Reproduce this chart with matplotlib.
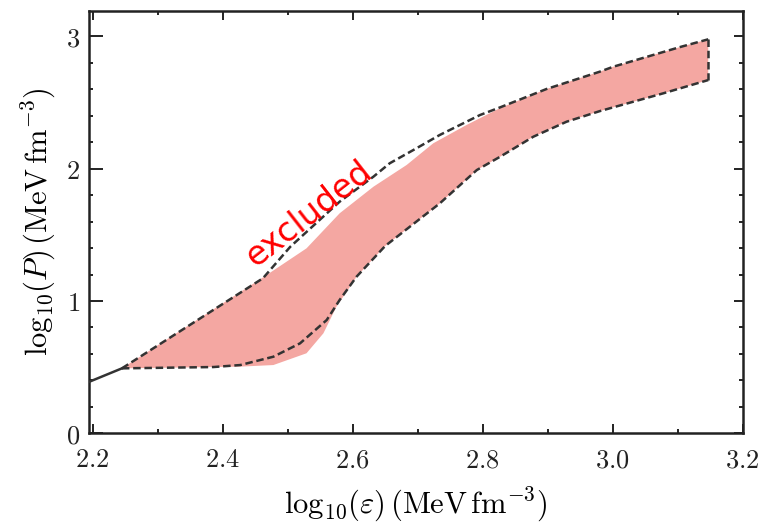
import matplotlib
matplotlib.use("Agg")
import matplotlib.pyplot as plt
from matplotlib.ticker import MultipleLocator, FuncFormatter

plt.rcParams["mathtext.fontset"] = "cm"

# Upper boundary of the allowed band (dashed, "excluded" above it)
upper_x = [2.245, 2.462, 2.504, 2.580, 2.632, 2.657, 2.698, 2.734, 2.796,
           2.827, 2.898, 2.980, 3.001, 3.104, 3.147]
upper_y = [0.491, 1.172, 1.410, 1.751, 1.940, 2.041, 2.154, 2.255, 2.406,
           2.464, 2.602, 2.733, 2.771, 2.920, 2.978]

# Lower boundary of the allowed band (dashed)
lower_x = [2.245, 2.386, 2.427, 2.478, 2.519, 2.560, 2.580, 2.606, 2.650,
           2.734, 2.791, 2.827, 2.878, 2.929, 2.980, 3.078, 3.147]
lower_y = [0.491, 0.501, 0.516, 0.579, 0.680, 0.856, 1.008, 1.184, 1.416,
           1.738, 1.990, 2.091, 2.242, 2.355, 2.435, 2.570, 2.670]

# Shaded region edges
band_top_x = [2.245, 2.462, 2.529, 2.580, 2.632, 2.683, 2.724, 2.775, 2.827,
              2.898, 2.980, 3.001, 3.104, 3.147]
band_top_y = [0.491, 1.178, 1.398, 1.663, 1.864, 2.028, 2.192, 2.330, 2.459,
              2.602, 2.733, 2.771, 2.920, 2.978]
band_bot_x = [2.245, 2.427, 2.478, 2.529, 2.555, 2.575, 2.596, 2.606, 2.650,
              2.734, 2.791, 2.827, 2.878, 2.929, 2.980, 3.078, 3.147]
band_bot_y = [0.491, 0.504, 0.516, 0.605, 0.756, 0.957, 1.108, 1.184, 1.416,
              1.738, 1.990, 2.091, 2.242, 2.355, 2.435, 2.570, 2.670]

# Crust (single low-density EOS)
crust_x = [2.19, 2.245]
crust_y = [0.38, 0.491]

x_ticks = [2.2, 2.4, 2.6, 2.8, 3.0, 3.2]
y_ticks = [0, 1, 2, 3]

fig = plt.figure(figsize=(7.67, 5.26), dpi=100)
ax = fig.add_axes([0.1156, 0.1762, 0.8527, 0.8029])

band_color = "#F4A7A2"
line_color = "#333333"

poly_x = band_top_x + band_bot_x[::-1]
poly_y = band_top_y + band_bot_y[::-1]
ax.fill(poly_x, poly_y, color=band_color, lw=0, zorder=1)

dash_kw = dict(color=line_color, lw=1.8, dashes=(3.0, 1.5), zorder=3)
ax.plot(upper_x, upper_y, **dash_kw)
ax.plot(lower_x, lower_y, **dash_kw)
ax.plot([upper_x[-1], lower_x[-1]], [upper_y[-1], lower_y[-1]], **dash_kw)
ax.plot(crust_x, crust_y, color=line_color, lw=1.8, zorder=3)

ax.text(2.532, 1.655, "excluded", color="red", fontsize=24,
        rotation=38, rotation_mode="anchor", ha="center", va="center",
        family="DejaVu Sans", zorder=4)

ax.set_xlim(2.19385, 3.2)
ax.set_ylim(0, 3.192)

ax.set_xticks(x_ticks)
ax.set_yticks(y_ticks)
ax.xaxis.set_minor_locator(MultipleLocator(0.1))
ax.yaxis.set_minor_locator(MultipleLocator(0.2))
ax.xaxis.set_major_formatter(FuncFormatter(lambda v, p: f"${v:.1f}$"))
ax.yaxis.set_major_formatter(FuncFormatter(lambda v, p: f"${v:.0f}$"))

ax.tick_params(which="both", direction="in", top=True, right=True,
               width=1.4, colors="#222222", labelsize=19)
ax.tick_params(which="major", length=6.5)
ax.tick_params(which="minor", length=3)
ax.tick_params(axis="x", which="major", pad=10)
ax.tick_params(axis="y", which="major", pad=6)
for t in ax.yaxis.get_major_ticks():
    t.tick1line.set_markersize(10)

for s in ax.spines.values():
    s.set_linewidth(1.8)
    s.set_color("#222222")

ax.set_xlabel(r"$\mathrm{log}_{10}(\varepsilon)\,(\mathrm{MeV\,fm^{-3}})$",
              fontsize=22, labelpad=9)
ax.set_ylabel(r"$\mathrm{log}_{10}(P)\,(\mathrm{MeV\,fm^{-3}})$",
              fontsize=22, labelpad=6)

fig.savefig("out.png", dpi=100)
